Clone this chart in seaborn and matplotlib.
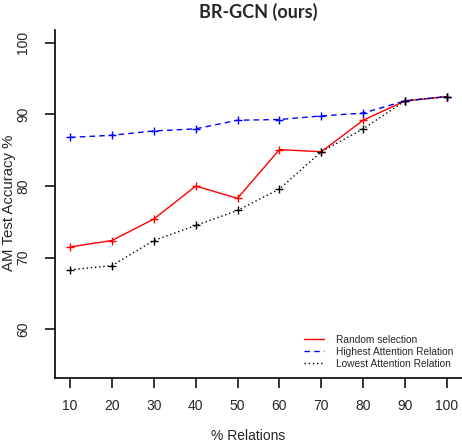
import matplotlib
matplotlib.use("Agg")
import matplotlib.pyplot as plt
import seaborn as sns
import pandas as pd

relations = [10, 20, 30, 40, 50, 60, 70, 80, 90, 100]
random_sel = [71.5, 72.4, 75.4, 80.0, 78.3, 85.1, 84.8, 89.2, 91.9, 92.5]
highest_att = [86.8, 87.1, 87.7, 88.0, 89.2, 89.3, 89.8, 90.2, 91.9, 92.5]
lowest_att = [68.3, 68.9, 72.4, 74.5, 76.6, 79.6, 84.8, 88.0, 91.9, 92.5]
series_names = ["Random selection", "Highest Attention Relation", "Lowest Attention Relation"]
y_ticks = [60, 70, 80, 90, 100]

sns.set_style("white")
plt.rcParams["font.family"] = ["Liberation Sans", "DejaVu Sans"]

fig = plt.figure(figsize=(4.62, 4.44), dpi=100)
ax = fig.add_axes([55 / 462, 1 - 378 / 444, 407 / 462, 348 / 444])

df = pd.DataFrame({"x": relations, "r": random_sel, "h": highest_att, "l": lowest_att})
styles = [("r", "red", "-"), ("h", "blue", (0, (4, 3))), ("l", "black", (0, (1, 2)))]
for (col, color, ls), name in zip(styles, series_names):
    sns.lineplot(data=df, x="x", y=col, ax=ax, color=color, linestyle=ls, lw=1.0,
                 marker="+", markersize=6, markeredgewidth=1.0, markeredgecolor=color,
                 label=name)

ax.set_xlim(6.4, 103.6)
ax.set_ylim(53.2, 101.8)
ax.set_xticks(relations)
ax.set_yticks(y_ticks)
ax.set_yticklabels([str(v) for v in y_ticks], rotation=90, va="center")
for s in ["top", "right"]:
    ax.spines[s].set_visible(False)
for s in ["left", "bottom"]:
    ax.spines[s].set_linewidth(1.2)
    ax.spines[s].set_color("black")
ax.tick_params(axis="both", direction="out", length=7, width=1.1, color="black",
               labelsize=10, pad=8, left=True, bottom=True)
ax.tick_params(axis="y", pad=11)

ax.set_xlabel("% Relations", fontsize=10, va="center")
ax.xaxis.set_label_coords((248 - 55) / 407, (378 - 436) / 348)
ax.set_ylabel("AM Test Accuracy %", fontsize=10.8, va="center")
ax.yaxis.set_label_coords((9 - 55) / 407, (378 - 203) / 348)

leg = ax.legend(loc="lower right", frameon=False, fontsize=7.3, handlelength=2.0,
                handletextpad=1.1, labelspacing=0.2, bbox_to_anchor=(1.0, 0.0))
for h in leg.legend_handles:
    h.set_marker("")

fig.text(258 / 462, 1 - 12 / 444, "BR-GCN (ours)", ha="center", va="center",
         fontsize=13, fontweight="bold", family=["Lato", "DejaVu Sans"])

fig.savefig("out.png", dpi=100)
